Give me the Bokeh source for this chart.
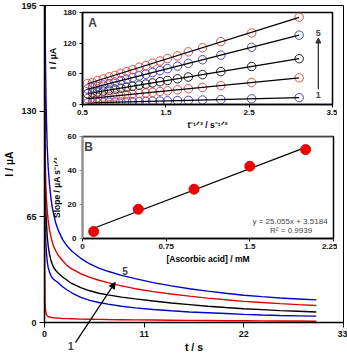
from bokeh.plotting import figure
from bokeh.models import FixedTicker, Label, Arrow, NormalHead, Span
from bokeh.layouts import column
from bokeh.embed import file_html
from bokeh.resources import INLINE
import numpy as np

FONT = "Liberation Sans"

# ---------------- main chronoamperograms ----------------
t_main = [0.01, 0.03, 0.06, 0.1, 0.15, 0.2, 0.3, 0.4, 0.55, 0.7, 0.85, 1.0, 1.25, 1.5, 2.0, 2.5,
          3.0, 4.0, 5.0, 6.0, 7.0, 8.5, 10, 12, 14, 16, 18, 20, 22, 24, 26, 28, 30]
i_curve1 = [150, 35, 14, 8.5, 6, 5, 4.2, 3.7, 3.4, 3.2, 3.0, 2.9, 2.8, 2.7, 2.5, 2.4,
            2.3, 2.1, 2.0, 1.9, 1.8, 1.7, 1.6, 1.5, 1.4, 1.3, 1.2, 1.1, 1.05, 1.0, 0.95, 0.9, 0.8]
i_curve2 = [210, 110, 75, 58, 49, 44, 37.5, 34, 31, 29, 27.5, 26.5, 25.5, 24.5, 22, 20,
            18.3, 15.5, 13.6, 12.3, 11.3, 10, 9, 8, 7.2, 6.5, 6, 5.5, 5, 4.6, 4.3, 4.1, 3.9]
i_curve3 = [220, 140, 95, 78, 68, 63, 53, 47.5, 42, 38.5, 36, 34, 32, 30.5, 28, 26,
            24, 21.5, 19.5, 18, 17, 15.6, 14.5, 13.2, 12, 11, 10, 9.2, 8.5, 7.9, 7.3, 6.9, 6.5]
i_curve4 = [230, 170, 125, 96, 84, 77, 69, 63, 57, 53, 49.5, 47, 44, 41.5, 38, 35,
            33, 30, 27.8, 26, 24.5, 22.5, 20.8, 19, 17.5, 16.2, 15, 14, 13, 12.3, 11.6, 11, 10.5]
i_curve5 = [240, 215, 190, 165, 143, 128, 108, 96, 85, 77, 71, 67, 61, 57, 51, 47,
            44, 39.5, 36, 33.5, 31.5, 29, 27, 24.5, 22.5, 20.8, 19.3, 18, 16.8, 15.9, 15.1, 14.5, 13.9]
main_colors = ["#e00000", "#0000c8", "#000000", "#e00000", "#0000c8"]
main_xticks = [0, 11, 22, 33]
main_yticks = [0, 65, 130, 195]

# ---------------- inset A: I vs t^-1/2 ----------------
xA = [0.56, 0.62, 0.68, 0.75, 0.82, 0.89, 0.96, 1.03, 1.10, 1.18, 1.26, 1.34, 1.43, 1.52,
      1.64, 1.77, 1.94, 2.16, 2.53, 3.10]
a_s1 = [3.2, 3.5, 3.7, 4.0, 4.3, 4.6, 4.8, 5.1, 5.4, 5.7, 6.0, 6.4, 6.7, 7.1, 7.6, 8.1, 8.8, 9.6, 11.1, 13.4]
a_s2 = [11.5, 12.4, 13.4, 14.5, 15.6, 16.7, 17.9, 19.0, 20.1, 21.4, 22.7, 23.9, 25.4, 26.8,
        28.7, 30.8, 33.5, 37.1, 43.0, 52.1]
a_s3 = [21.1, 22.7, 24.4, 26.3, 28.1, 30.0, 31.9, 33.8, 35.7, 37.9, 40.0, 42.2, 44.6, 47.0,
        50.3, 53.8, 58.4, 64.3, 74.3, 89.7]
a_s4 = [30.2, 32.7, 35.2, 38.1, 41.0, 43.9, 46.8, 49.7, 52.7, 56.0, 59.3, 62.6, 66.3, 70.1,
        75.1, 80.5, 87.5, 96.6, 112.0, 135.7]
a_s5 = [41, 43, 47, 50, 54, 57, 61, 64, 68, 73, 76, 81, 85, 90, 95, 103, 111, 123, 140, 171]
a_colors = ["#4848c8", "#e05050", "#202020", "#4848c8", "#e05050"]
a_xticks = [0.5, 1.5, 2.5, 3.5]
a_yticks = [0, 60, 120, 180]

# ---------------- inset B: slope vs concentration ----------------
conc = [0.1, 0.5, 1.0, 1.5, 2.0]
slope = [4.1, 17.2, 29.0, 42.5, 52.3]
fit_slope = 25.055
fit_intercept = 3.5184
r2 = 0.9939
b_xticks = [0, 0.75, 1.5, 2.25]
b_yticks = [0, 20, 40, 60]

W, H = 347, 355
ML, MR, MT, MB = 38, 4, 5, 27
X0, X1, Y0, Y1 = 0, 33, 0, 195


def style_axes(p, tick_size, tick_out, lw):
    p.xgrid.visible = False
    p.ygrid.visible = False
    for ax in (p.xaxis, p.yaxis):
        ax.minor_tick_line_color = None
        ax.major_tick_in = 0
        ax.major_tick_out = tick_out
        ax.axis_line_color = "black"
        ax.axis_line_width = lw
        ax.major_tick_line_color = "black"
        ax.major_label_text_font = FONT
        ax.major_label_text_font_style = "bold"
        ax.major_label_text_font_size = tick_size
        ax.major_label_text_color = "#111111"
        ax.axis_label_text_font = FONT
        ax.axis_label_text_font_style = "bold"
        ax.axis_label_text_color = "black"


# main figure
p = figure(width=W, height=H, x_range=(X0, X1), y_range=(Y0, Y1),
           output_backend="svg", toolbar_location=None, frame_align=False,
           min_border_left=ML, min_border_right=MR, min_border_top=MT, min_border_bottom=MB,
           background_fill_color="white", border_fill_color="white")
style_axes(p, "9px", 5, 1.5)
p.outline_line_color = "black"
p.outline_line_width = 1
p.xaxis.ticker = FixedTicker(ticks=main_xticks)
p.yaxis.ticker = FixedTicker(ticks=main_yticks)
p.xaxis.axis_label = "t / s"
p.yaxis.axis_label = "I / µA"
p.xaxis.axis_label_text_font_size = "10.5px"
p.yaxis.axis_label_text_font_size = "10.5px"
p.xaxis.major_label_standoff = 3
p.yaxis.major_label_standoff = 3
p.xaxis.axis_label_standoff = 1
p.yaxis.axis_label_standoff = 3

for ys, c in zip([i_curve5, i_curve4, i_curve3, i_curve2, i_curve1],
                 [main_colors[4], main_colors[3], main_colors[2], main_colors[1], main_colors[0]]):
    p.line(t_main, ys, line_color=c, line_width=1.4)

p.add_layout(Label(x=8.9, y=31.5, text="5", text_font=FONT, text_font_style="bold",
                   text_font_size="10px", text_align="center", text_baseline="middle"))

# transparent overlay sharing the main data scale but spanning the whole canvas,
# so the arrow and the "1" can reach below the time axis
sx = (W - ML - MR) / (X1 - X0)
sy = (H - MT - MB) / (Y1 - Y0)
ov = figure(width=W, height=H,
            x_range=(X0 - ML / sx, X1 + MR / sx), y_range=(Y0 - MB / sy, Y1 + MT / sy),
            output_backend="svg", toolbar_location=None, x_axis_type=None, y_axis_type=None,
            frame_align=False, min_border=0, background_fill_color=None, border_fill_color=None,
            outline_line_color=None)
ov.add_layout(Arrow(end=NormalHead(size=6, fill_color="black", line_color="black"),
                    x_start=4.0, y_start=-8.5, x_end=8.3, y_end=27.8,
                    line_color="black", line_width=1.2))
ov.add_layout(Label(x=3.5, y=-10.8, text="1", text_font=FONT, text_font_style="bold",
                    text_font_size="10px", text_align="center", text_baseline="middle"))

# inset A
pa = figure(width=292, height=124, x_range=(0.5, 3.5), y_range=(0, 180),
            output_backend="svg", toolbar_location=None, frame_align=False,
            min_border_left=35, min_border_right=5, min_border_top=4, min_border_bottom=27,
            background_fill_color="white", border_fill_color=None)
style_axes(pa, "8px", 3, 1.5)
pa.outline_line_color = "black"
pa.outline_line_width = 1.5
pa.xaxis.ticker = FixedTicker(ticks=a_xticks)
pa.yaxis.ticker = FixedTicker(ticks=a_yticks)
pa.xaxis.axis_label = "t⁻¹ᐟ² / s⁻¹ᐟ²"
pa.yaxis.axis_label = "I / µA"
pa.xaxis.axis_label_text_font_size = "8.5px"
pa.yaxis.axis_label_text_font_size = "9px"
pa.xaxis.major_label_standoff = 2
pa.yaxis.major_label_standoff = 3
pa.xaxis.axis_label_standoff = 2
pa.yaxis.axis_label_standoff = 2

xs_line = np.array([min(xA), max(xA)])
for ys, c in zip([a_s1, a_s2, a_s3, a_s4, a_s5], a_colors):
    pa.scatter(xA, ys, marker="circle", size=8.5, fill_color=None, line_color=c, line_width=1)
    k, b = np.polyfit(xA, ys, 1)
    pa.line(xs_line, k * xs_line + b, line_color="black", line_width=1.2)

pa.add_layout(Arrow(end=NormalHead(size=5, fill_color="#333333", line_color="#333333"),
                    x_start=3.33, y_start=30, x_end=3.33, y_end=130,
                    line_color="#333333", line_width=1.3))
pa.add_layout(Label(x=3.33, y=140, text="5", text_font=FONT, text_font_style="bold",
                    text_font_size="9px", text_align="center", text_baseline="middle"))
pa.add_layout(Label(x=3.33, y=19, text="1", text_font=FONT, text_font_style="bold",
                    text_font_size="9px", text_align="center", text_baseline="middle"))
pa.add_layout(Label(x=0.62, y=160, text="A", text_font=FONT, text_font_style="bold",
                    text_font_size="12px", text_align="center", text_baseline="middle"))

# inset B
pb = figure(width=292, height=138, x_range=(0, 2.25), y_range=(0, 60),
            output_backend="svg", toolbar_location=None, frame_align=False,
            min_border_left=37, min_border_right=4, min_border_top=6, min_border_bottom=30,
            background_fill_color="white", border_fill_color=None)
style_axes(pb, "8px", 3, 1.5)
pb.outline_line_color = "black"
pb.outline_line_width = 1.5
pb.yaxis.axis_line_color = "#8c8c8c"
pb.yaxis.major_tick_line_color = "#8c8c8c"
pb.add_layout(Span(location=60, dimension="width", line_color="#8c8c8c", line_width=2))
pb.xaxis.ticker = FixedTicker(ticks=b_xticks)
pb.yaxis.ticker = FixedTicker(ticks=b_yticks)
pb.xaxis.axis_label = "[Ascorbic acid] / mM"
pb.yaxis.axis_label = "Slope / µA s⁻¹ᐟ²"
pb.xaxis.axis_label_text_font_size = "8.5px"
pb.yaxis.axis_label_text_font_size = "8.5px"
pb.xaxis.major_label_standoff = 2
pb.yaxis.major_label_standoff = 3
pb.xaxis.axis_label_standoff = 2
pb.yaxis.axis_label_standoff = 3

fx = np.array([min(conc), max(conc)])
pb.line(fx, fit_slope * fx + fit_intercept, line_color="black", line_width=1.2)
pb.scatter(conc, slope, marker="circle", size=10, fill_color="#ee0000", line_color="#ee0000")
pb.add_layout(Label(x=0.055, y=54, text="B", text_font=FONT, text_font_style="bold",
                    text_font_size="12px", text_align="center", text_baseline="middle"))
pb.add_layout(Label(x=1.87, y=10, text=f"y = {fit_slope}x  + {fit_intercept}", text_font=FONT,
                    text_font_size="8px", text_align="center", text_baseline="middle"))
pb.add_layout(Label(x=1.87, y=4.7, text=f"R² = {r2}", text_font=FONT,
                    text_font_size="8px", text_align="center", text_baseline="middle"))

ov.styles = {"position": "absolute", "left": "0px", "top": "0px"}
pa.styles = {"position": "absolute", "left": "45px", "top": "8px"}
pb.styles = {"position": "absolute", "left": "45px", "top": "130px"}
root = column(p, ov, pa, pb, width=W, height=H, styles={"position": "relative"})

open("out.html", "w").write(file_html(root, INLINE))
